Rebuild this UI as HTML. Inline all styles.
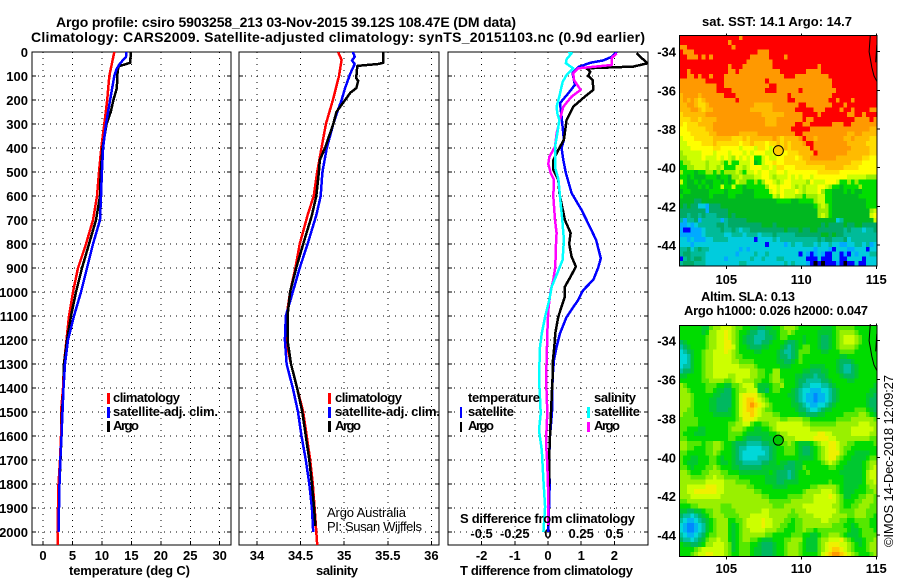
<!DOCTYPE html>
<html lang="en">
<head>
<meta charset="utf-8">
<title>Argo profile csiro 5903258_213</title>
<style>
html,body{margin:0;padding:0;background:#fff;}
svg{display:block;}
text{font-family:"Liberation Sans",sans-serif;font-weight:bold;fill:#000;font-size:13px;}
.thin{font-weight:normal;}
</style>
</head>
<body>
<svg id="chart" xmlns="http://www.w3.org/2000/svg" width="900" height="580" viewBox="0 0 900 580">
  <defs>
    <clipPath id="clip-t"><rect x="32" y="52" width="199" height="493"/></clipPath>
    <clipPath id="clip-s"><rect x="239" y="52" width="200" height="493"/></clipPath>
    <clipPath id="clip-d"><rect x="448" y="52" width="200" height="493"/></clipPath>
  </defs>
  <g id="heat-layer"></g>
  <g id="axes-layer"></g>
  <g id="series-layer"></g>

  <text x="56" y="27" textLength="460" lengthAdjust="spacing" style="font-size:14px">Argo profile: csiro 5903258_213 03-Nov-2015 39.12S 108.47E (DM data)</text>
  <text x="31" y="42" textLength="614" lengthAdjust="spacing" style="font-size:14px">Climatology: CARS2009. Satellite-adjusted climatology: synTS_20151103.nc (0.9d earlier)</text>

  <text x="69" y="575" textLength="121" lengthAdjust="spacing" style="font-size:13px">temperature (deg C)</text>
  <text x="316" y="575" textLength="42" lengthAdjust="spacing" style="font-size:13px">salinity</text>
  <text x="460" y="575" textLength="173" lengthAdjust="spacing" style="font-size:13px">T difference from climatology</text>

  <g>
    <rect x="107" y="393" width="3" height="11" fill="#ff0000"/>
    <text x="113" y="402" textLength="67" lengthAdjust="spacing">climatology</text>
    <rect x="107" y="407" width="3" height="11" fill="#0000ff"/>
    <text x="113" y="416" textLength="105" lengthAdjust="spacing">satellite-adj. clim.</text>
    <rect x="107" y="421" width="3" height="11" fill="#000"/>
    <text x="113" y="430" textLength="26" lengthAdjust="spacing">Argo</text>
  </g>
  <g>
    <rect x="328" y="393" width="3" height="11" fill="#ff0000"/>
    <text x="335" y="402" textLength="67" lengthAdjust="spacing">climatology</text>
    <rect x="328" y="407" width="3" height="11" fill="#0000ff"/>
    <text x="335" y="416" textLength="105" lengthAdjust="spacing">satellite-adj. clim.</text>
    <rect x="328" y="421" width="3" height="11" fill="#000"/>
    <text x="335" y="430" textLength="26" lengthAdjust="spacing">Argo</text>
  </g>
  <g>
    <text x="468" y="402" textLength="72" lengthAdjust="spacing">temperature</text>
    <rect x="460" y="407" width="2" height="11" fill="#0000ff"/>
    <text x="468" y="416" textLength="46" lengthAdjust="spacing">satellite</text>
    <rect x="460" y="422" width="2" height="10" fill="#000"/>
    <text x="468" y="430" textLength="26" lengthAdjust="spacing">Argo</text>
    <text x="594" y="402" textLength="42" lengthAdjust="spacing">salinity</text>
    <rect x="587" y="407" width="3" height="11" fill="#00ffff"/>
    <text x="594" y="416" textLength="46" lengthAdjust="spacing">satellite</text>
    <rect x="587" y="422" width="3" height="10" fill="#ff00ff"/>
    <text x="594" y="430" textLength="26" lengthAdjust="spacing">Argo</text>
  </g>

  <text x="460" y="523" textLength="175" lengthAdjust="spacing">S difference from climatology</text>
  <text class="thin" x="327" y="517" textLength="79" lengthAdjust="spacing">Argo Australia</text>
  <text class="thin" x="327" y="531" textLength="95" lengthAdjust="spacing">PI: Susan Wijffels</text>

  <text x="702" y="26" textLength="150" lengthAdjust="spacing">sat. SST: 14.1 Argo: 14.7</text>
  <text x="701" y="301" textLength="94" lengthAdjust="spacing">Altim. SLA: 0.13</text>
  <text x="684" y="315" textLength="184" lengthAdjust="spacing">Argo h1000: 0.026 h2000: 0.047</text>
  <text class="thin" transform="translate(893,547) rotate(-90)" x="0" y="0" textLength="172" lengthAdjust="spacing">©IMOS 14-Dec-2018 12:09:27</text>
</svg>

<script>
/* ---------- axis tick labels ---------- */
const depthTicks = [0,100,200,300,400,500,600,700,800,900,1000,1100,1200,1300,1400,1500,1600,1700,1800,1900,2000];
const temperatureTicks = [0,5,10,15,20,25,30];
const salinityTicks = [34,34.5,35,35.5,36];
const tDifferenceTicks = [-2,-1,0,1,2];
const sDifferenceTicks = [-0.5,-0.25,0,0.25,0.5];
const lonTicks = [105,110,115];
const latTicks = [-34,-36,-38,-40,-42,-44];

/* ---------- temperature profiles ---------- */
const tempClimDepths = [0,100,200,300,400,500,600,700,800,900,1000,1100,1200,1300,1400,1500,1600,1700,1800,1900,2000,2054];
const tempClimValues = [12.1,11.26,10.9,10.4,9.9,9.5,9.17,8.49,7.3,5.94,5.09,4.41,3.99,3.57,3.4,3.06,3.06,2.89,2.63,2.55,2.46,2.5];
const tempSatDepths = [0,20,47,70,100,200,300,400,500,600,700,800,900,1000,1100,1200,1300,1400,1500,1600,1700,1800,1900,2000];
const tempSatValues = [14.15,14.1,13.1,12.5,12.1,11.4,10.7,10.2,10,9.85,9.68,8.49,7.47,6.45,5.26,4.24,3.74,3.48,3.31,3.14,2.94,2.8,2.72,2.63];
const tempArgoDepths = [0,45,60,100,150,200,250,300,400,500,600,700,800,900,1000,1100,1200,1300,1400,1500,1600,1700,1800,1900,1975];
const tempArgoValues = [14.9,14.8,12.8,12.6,12.55,11.95,11.5,10.8,10.1,9.8,9.68,9,7.81,6.62,5.6,4.75,4.07,3.57,3.48,3.23,3.14,2.97,2.8,2.72,2.63];

/* ---------- salinity profiles ---------- */
const salClimDepths = [0,33,100,200,300,400,500,600,680,800,900,1000,1100,1200,1300,1400,1500,1600,1700,1800,1900,2000,2054];
const salClimValues = [34.93,34.97,34.94,34.87,34.79,34.74,34.69,34.65,34.58,34.49,34.44,34.38,34.34,34.33,34.39,34.46,34.53,34.57,34.61,34.64,34.66,34.68,34.69];
const salSatDepths = [0,20,35,50,90,150,200,250,300,400,500,600,680,800,900,1000,1100,1200,1300,1400,1500,1600,1700,1800,1900,2000];
const salSatValues = [35.10,35.12,35.09,35.12,35.07,35.01,34.97,34.92,34.875,34.8,34.75,34.73,34.68,34.58,34.49,34.41,34.33,34.32,34.34,34.41,34.47,34.51,34.56,34.6,34.63,34.645];
const salArgoDepths = [0,45,50,58,100,110,120,150,170,200,250,300,400,450,500,600,680,800,900,1000,1100,1200,1300,1400,1500,1600,1700,1800,1900,1975];
const salArgoValues = [35.45,35.45,35.39,35.15,35.14,35.14,35.16,35.14,35.07,35.01,34.91,34.875,34.78,34.72,34.71,34.68,34.63,34.53,34.45,34.38,34.35,34.35,34.39,34.46,34.52,34.56,34.6,34.63,34.655,34.67];

/* ---------- differences from climatology ---------- */
const dtSatDepths = [0,20,35,45,63,88,137,172,213,270,366,400,450,505,588,658,700,783,860,900,950,992,1033,1104,1172,1229,1283,1354,1500,1600,1713,1800,2000];
const dtSatValues = [2.07,1.92,1.67,1.27,0.91,0.74,0.81,0.61,0.36,0.41,0.48,0.41,0.46,0.54,0.71,1.01,1.16,1.45,1.59,1.51,1.36,1.06,0.91,0.56,0.36,0.26,0.18,0.14,0.12,0.06,0.03,0.05,0.01];
const dtArgoDepths = [5,25,47,61,68,82,100,117,158,186,228,283,366,408,450,491,533,587,700,754,800,853,894,936,978,1019,1061,1103,1172,1229,1298,1354,1500,1700,1800,1975];
const dtArgoValues = [2.67,2.82,3.0,2.57,1.16,1.27,1.21,1.35,1.36,1.11,0.76,0.56,0.48,0.31,0.16,0.16,0.31,0.34,0.51,0.68,0.64,0.71,0.84,0.68,0.51,0.51,0.41,0.31,0.22,0.19,0.14,0.14,0.09,0.03,0.03,0.0];
const dsSatDepths = [0,5,30,47,68,96,125,186,228,256,283,340,395,480,530,630,700,783,866,922,978,1033,1103,1172,1229,1354,1506,1575,1660,1783,1895,2000];
const dsSatValues = [0.153,0.178,0.14,0.135,0.19,0.14,0.11,0.085,0.065,0.07,0.085,0.07,0.053,0.053,0.078,0.095,0.108,0.12,0.11,0.07,0.028,0.01,-0.022,-0.047,-0.06,-0.068,-0.055,-0.068,-0.047,-0.035,-0.022,-0.035];
const dsArgoDepths = [5,25,54,68,88,117,158,186,228,270,340,395,437,466,505,533,600,700,754,800,894,950,992,1075,1172,1283,1354,1500,1625,1720,1850,1970];
const dsArgoValues = [0.517,0.48,0.48,0.228,0.19,0.196,0.246,0.178,0.115,0.095,0.065,0.053,0.01,0.002,0.02,0.045,0.04,0.053,0.065,0.06,0.055,0.04,0.02,0.002,-0.005,-0.01,-0.015,-0.005,-0.015,-0.005,0.002,0.002];

/* ---------- map: satellite SST category per 0.25 degree cell ---------- */
const sstRows = [
"rrrrrrrrrrrrrrrrorrrrrrrrrrrrrrrrrrrrrrrrrrrrrrrrrrrr",
"rrrrrrrrrrrrrorrrrrrrrrrrrrrrrrrrrrrrrrrrrrrrrrrrrrrr",
"oorrrrrrrrrrrrorrrrrrrrrrrrrrrrrrrrrrrrrrrrrrrrrrrrrr",
"rooorrrrrrrrrrrrrrrrrooorrrrrrrrrrrrrrrrrrrrrrrrrrrrr",
"rrooorororrrrrrrrrrooooorrrrorrrrrrrrrrrrrrrrrrrrrrrr",
"rrrrrrrrrrrrrrrrrrooooooorrrrrrrrrrrrrrrrrrrrrrrrrrrr",
"rrrrrrrrrrrrrorrroooooooorrrrrrrrrrrrorrrrrrrrrrrrrrr",
"rrorrrrrrrrrroorooooooooooorrrrrrroooorrrrrrrrrrrrrrr",
"rroororrorrroooooooooooooooorrrooooooooorrrrrrrrrrrrr",
"ooooooorrrrrooooooooooorooooooooooooooooorrrrrrrrrrrr",
"oooooooooorroooooooooooorrooooooooooooooorrrrrrrrrrrr",
"oooooooooorrrrooooooooorrroooooorooooooooorrrrrrrrrrr",
"aooooaoooooorrroooooooooooooorooooooooooorrrrrrrrrrrr",
"aoaoayaoooooooorooooooooooooorrooooooooorrorrrorrrrrr",
"aaooayyaooooooooooooaaaaaooooooorrooooooorrrorrrrrrrr",
"aaaooayaaooooooooooaaaaaaoooooorrrrrooorrrrorrorrrroo",
"yaaaaaaoooooooooooooooaaaaaaooooorrrrorrrrrrroorrorrr",
"yyyaayaaaaoooooooooooooaaaoooooooroorrrrrrrrrrrooooro",
"yYyyyaaaaooooooooooooooaaaooooorroorrrrrrooorrooooooo",
"YYyyyyyaaooooooooooooooooooooorrrrrooooooooooooooooaa",
"YYYyyyyyaaooooooaaaaaoooooooooorrooooooooooooaaooaaaa",
"lYYYyyyyyaaaaayyyayaaaaaaoayaaaaorooaoooooooaaoaaaayy",
"llYYYYyyyayyyyyyYyyayyyYyyayayaaaorroooooooooaaaaayyy",
"lllYYYYYYyyYYYYYlYYYlyyYlYyyayaaaaarooooooooooaaaaayy",
"mlllllYYYlYYYlYYYlYlYYYllYYYYyyyaaaarooooooooaaaaaayy",
"mmllllYlllYlYlmYlYlYGGlYllYYyyyYyaaoooooooaaaaaaayyYY",
"GmmllllmlllmGlGGlllYdGlYYyYYyyyyyyaaaaaaaaaaaayyyYYYY",
"GGmmlllmllmlGGGllmlYYYllYlyyYYYyyyyyyyyaaaaayyyyYYYYY",
"mGGGdGGmmGmGmmmlmGllYlYYllYYlYYYYYYYYyyyyyyYYYYYYYYYY",
"GGdGdddGGGdGGdmmlmmmllYYlmlllYlYlYYlYYYYYYYYYlllllmmm",
"lGddGdGddGGdGdGlmmGGmGmYYlmlYYllllmYlllYYYlGGmGmGGGGG",
"GGdddGdGdGGlGGlGGdGGGGGmYYlYYYlmlmlllYYlmGGdGGGGmGGGG",
"dGGdddddGGGGdGGGGdddGGGGlYlYlllYlmlllYmGGdddGdGddGGGG",
"GdddddddGddddGGdddddGGGGGlmYlllmmGmmmllGGdddddddGGGGG",
"ddddttddddddddddddddddddddGGGGddGGGGmllGGdddddddddGGG",
"dtdttccbtttdddddddddddddddddddddddddGmlmGdddddddddGGG",
"tttttttbtttttddddddddddddddddddddddddmmmGddddddddddml",
"ttuttutuuutttdtddddddddddddddddddddddmlmGddddddddddlY",
"ubuutbuuuuubutttttddddddddddddddddddddddddcuddddddddl",
"bbcbcuuuuuttutttttttttdddtddddddddddddtdttttdttddtttt",
"bBBbbbcuuuutuutucuutttttttttdtttdttddtttttttutuuucuut",
"bbbbbbcuuuuuccuuucuuucuuutuuuuutttttttddtdttuuuuuuuuu",
"ccbcbbbccuuuucccccccBccccucuuuuuuuuuututtuuutcuuuuuuu",
"cccbcccccccccccccccccccBccccbcuccuuucuccuccbbccuucubc",
"uutcutuuccccccccbcbcccccccccccccccccbcccbBcccbbcccBcc",
"uttuuuuccccccccbccccuccuccccccccBcbBbcbBBccBbBcbcccuu",
"BututtucccccbccccccuccucccuuccccccBBBcBBBccBBccccBccc",
"utttuuucccccccccuuccccccccccucucccbBkBkBBBbBkBBcBBccc"
];

/* ---------- map: altimetry SLA level per 0.25 degree cell ---------- */
const slaRows = [
"6666665578 8999877665 5445566788 8766666655 5677777666 666",
"6666665688 99a9876654 4334556778 7666666555 5678888766 666",
"6666666788 99a9876544 3334456776 6665666544 5678999876 666",
"4566666788 99aa876544 3344566654 4565666544 5678999876 666",
"3456666788 99aa976654 4455666543 4567766544 5678888766 666",
"2345667889 99a9876666 5566665433 4577766655 6667777666 666",
"2235667889 9999877666 6666665443 4576666666 6665566666 666",
"2235667889 9999887777 6666665544 5676666666 6654445666 666",
"2335667889 9999998888 7666666555 6666655556 6654334566 666",
"3445667889 9999999998 8776688666 6665544455 6654334566 666",
"5566667889 9998899998 8776788666 6554443445 6665444566 666",
"6666667788 8877899888 7766788766 6544333344 5666655666 666",
"8766666777 6655778999 7555677866 6543322233 4566666666 665",
"8876666776 5544678899 9554677666 5432211122 3456666666 655",
"8887666665 5444679aaa a876666665 5432110112 3456666666 554",
"8887666655 4444679abb a987666666 5432110112 3456666666 544",
"8887666655 4444679abc ba98766666 5543211223 4566666666 544",
"8877666655 4445679abb a987766666 6544322345 5666666777 654",
"8777666665 5555679aab a988877666 6655444556 6666777788 765",
"7777766666 6666678aaa 9888888778 8887766666 6677778888 887",
"7777766666 6667788997 6677889999 9998877777 7788888899 988",
"7766655666 6667888766 5566789999 9999988888 8888889999 998",
"7666555666 6667777655 5555667889 9999999aa9 9888889999 988",
"7766666666 6667766544 4455566788 899999aaaa 9988888888 877",
"8877776778 8766544433 3344556778 7655567899 aa98877666 667",
"8877666778 8766543322 2233456677 7654456789 aa98776666 666",
"7766666778 7666543222 2223456677 7654456789 aaa8766555 566",
"7665566677 6566543222 2333456666 6655556789 aa87665555 677",
"7655566677 6556544333 3344556554 4556666678 9876655556 788",
"7765666778 7666554444 4455555544 4557666666 7766555556 789",
"8876667788 8776665555 5555654443 4566766666 6665555556 899",
"8887777889 8877776666 6665554443 4566666666 6666555556 899",
"8888888999 9988877776 6665554455 5566666666 7666555556 889",
"8899999aaa 9988888877 6666655556 6666677888 8876555566 788",
"8899aaaaaa 9988888888 7766666666 6667888899 9876555666 778",
"8889999999 9888888888 8877666667 7778889999 a987556677 887",
"7788888888 8888888888 8888777777 8888889999 9987666778 887",
"6667788888 8777888888 8888877788 8889999999 9887667788 877",
"5544556778 8777788888 8899888888 7888999999 9987777888 777",
"4332345678 8877778889 9999888887 7788889999 9888877888 776",
"3211234567 8886677899 99a9988877 6778888899 8887766777 766",
"2100123567 8886567899 99a9988776 6778888888 8777665677 766",
"2100123567 8886567889 9998887766 6778776777 7777765567 776",
"3211234677 8886567888 8887766666 7776655677 8887655567 777",
"4332345788 9886567887 7655566677 8886555788 999a876556 778",
"6554456889 9987567776 6544456678 8876555789 aaa9987656 788",
"6666789999 9987567776 5544456678 8876555789 abba987666 788",
"6667899aa9 9987667776 5544456678 887666679a bccba98766 678"
];

/* ---------- map: coast outline and profile location ---------- */
const coastLonA = [114.6,114.52,114.7,114.85,115.05];
const coastLatA = [-33.14,-34,-34.8,-35.25,-35.55];
const coastLonB = [115.03,114.96];
const coastLatB = [-33.65,-34.55];
const profileLon = 108.47;
const profileLat = -39.12;

/* ---------- drawing ---------- */
const NS = 'http://www.w3.org/2000/svg';
const heatLayer = document.getElementById('heat-layer');
const axesLayer = document.getElementById('axes-layer');
const seriesLayer = document.getElementById('series-layer');

const sstPalette = {r:'#ff0000',o:'#ff9900',a:'#ffbb00',y:'#ffdd00',Y:'#ffff00',l:'#ccff00',m:'#99ee00',G:'#00dd00',d:'#00b820',t:'#00aa66',u:'#00bb99',c:'#00ccdd',b:'#00aaff',B:'#0000ff',k:'#000000'};
const slaPalette = {'0':'#0088ff','1':'#00b4f0','2':'#00d8d8','3':'#00c0a0','4':'#00b860','5':'#00c830','6':'#00dc00','7':'#55e800','8':'#99f000','9':'#ccff00','a':'#f0f000','b':'#ffcc00','c':'#ff9900'};

function depthY(d){ return 52 + d * 0.24; }
function tempX(v){ return 43 + v * 5.89; }
function salX(v){ return 257 + (v - 34) * 87.2; }
function dtX(v){ return 548 + v * 33.2; }
function dsX(v){ return 548 + v * 132.8; }

function make(tag, attrs, parent){
  const el = document.createElementNS(NS, tag);
  for (const k in attrs) el.setAttribute(k, attrs[k]);
  parent.appendChild(el);
  return el;
}

function vline(x, y1, y2, dotted, name){
  const el = make('line', {x1:x, x2:x, y1:y1, y2:y2, stroke:'#000', 'stroke-width':1, 'shape-rendering':'crispEdges'}, axesLayer);
  
  
  if (dotted) el.setAttribute('stroke-dasharray', '1 5');
}
function hline(y, x1, x2, dotted, name){
  const el = make('line', {x1:x1, x2:x2, y1:y, y2:y, stroke:'#000', 'stroke-width':1, 'shape-rendering':'crispEdges'}, axesLayer);
  
  
  if (dotted) el.setAttribute('stroke-dasharray', '1 5');
}
function label(txt, x, y, anchor, name){
  const el = make('text', {x:x, y:y, 'text-anchor':anchor}, axesLayer);
  
  
  el.textContent = txt;
}

function panelFrame(left, right, xs, xLabels, showDepth, prefix){
  const top = 52, bottom = 545;
  xs.forEach(function(px, i){
    vline(px, top, bottom, true, prefix + '-x-grid');
    vline(px, bottom - 4, bottom, false, prefix + '-x-tick');
    label(xLabels[i], px, 560, 'middle', prefix + '-x-tick-label');
  });
  depthTicks.forEach(function(d){
    const y = depthY(d);
    hline(y, left, right, true, prefix + '-y-grid');
    hline(y, left, left + 4, false, prefix + '-y-tick');
    hline(y, right - 4, right, false, prefix + '-y-tick');
    if (showDepth) label(String(d), 28, y + 5, 'end', 'depth-tick-label');
  });
  const box = make('rect', {x:left, y:top, width:right - left, height:bottom - top, fill:'none', stroke:'#000', 'stroke-width':1, 'shape-rendering':'crispEdges'}, axesLayer);
  
  
}

panelFrame(32, 231, temperatureTicks.map(tempX), temperatureTicks.map(String), true, 'temperature');
panelFrame(239, 439, salinityTicks.map(salX), salinityTicks.map(String), false, 'salinity');
panelFrame(448, 648, tDifferenceTicks.map(dtX), tDifferenceTicks.map(String), false, 't-difference');

sDifferenceTicks.forEach(function(v){
  label(String(v), dsX(v), 538, 'middle', 's-difference-tick-label');
});

function series(depths, values, xFn, color, clip, name){
  const pts = depths.map(function(d, i){ return xFn(values[i]).toFixed(1) + ',' + depthY(d).toFixed(1); }).join(' ');
  const el = make('polyline', {points:pts, fill:'none', stroke:color, 'stroke-width':2.5, 'stroke-linejoin':'round', 'shape-rendering':'crispEdges', 'clip-path':'url(#' + clip + ')'}, seriesLayer);
  
  
}

series(tempClimDepths, tempClimValues, tempX, '#ff0000', 'clip-t', 'temperature-climatology-line');
series(tempArgoDepths, tempArgoValues, tempX, '#000000', 'clip-t', 'temperature-argo-line');
series(tempSatDepths, tempSatValues, tempX, '#0000ff', 'clip-t', 'temperature-satellite-line');

series(salClimDepths, salClimValues, salX, '#ff0000', 'clip-s', 'salinity-climatology-line');
series(salSatDepths, salSatValues, salX, '#0000ff', 'clip-s', 'salinity-satellite-line');
series(salArgoDepths, salArgoValues, salX, '#000000', 'clip-s', 'salinity-argo-line');

series(dtSatDepths, dtSatValues, dtX, '#0000ff', 'clip-d', 't-difference-satellite-line');
series(dtArgoDepths, dtArgoValues, dtX, '#000000', 'clip-d', 't-difference-argo-line');
series(dsArgoDepths, dsArgoValues, dsX, '#ff00ff', 'clip-d', 's-difference-argo-line');
series(dsSatDepths, dsSatValues, dsX, '#00ffff', 'clip-d', 's-difference-satellite-line');

function drawMap(rows, palette, top, bottom, lat34Y, degY, labelY, prefix, markerFill){
  const left = 679.3, right = 877;
  const lonX = function(lon){ return 726.3 + (lon - 105) * 15; };
  const latY = function(lat){ return lat34Y + (-34 - lat) * degY; };
  const cellW = (right - left) / 53;
  const cellH = (bottom - top) / rows.length;
  rows.forEach(function(row, r){
    const chars = row.replace(/ /g, '');
    for (let c = 0; c < 53; c++){
      const ch = chars[Math.min(c, chars.length - 1)];
      const cell = make('rect', {
        x:(left + c * cellW).toFixed(2), y:(top + r * cellH).toFixed(2),
        width:(cellW + 0.4).toFixed(2), height:(cellH + 0.4).toFixed(2),
        fill:palette[ch], 'shape-rendering':'crispEdges'
      }, heatLayer);
      
      
    }
  });
  lonTicks.forEach(function(lon){
    vline(lonX(lon), top - 2, top, false, prefix + '-x-tick');
    vline(lonX(lon), bottom, bottom + 3, false, prefix + '-x-tick');
    label(String(lon), lonX(lon), labelY, 'middle', prefix + '-lon-label');
  });
  latTicks.forEach(function(lat){
    hline(latY(lat), right, right + 3, false, prefix + '-y-tick');
    label(String(lat), 676, latY(lat) + 5, 'end', prefix + '-lat-label');
  });
  const box = make('rect', {x:left, y:top, width:right - left, height:bottom - top, fill:'none', stroke:'#000', 'stroke-width':1, 'shape-rendering':'crispEdges'}, axesLayer);
  
  

  const coastA = make('polyline', {points:coastLonA.map(function(v, i){ return lonX(v).toFixed(1) + ',' + latY(coastLatA[i]).toFixed(1); }).join(' '), fill:'none', stroke:'#000', 'stroke-width':1}, axesLayer);
  
  
  const coastB = make('polyline', {points:coastLonB.map(function(v, i){ return lonX(v).toFixed(1) + ',' + latY(coastLatB[i]).toFixed(1); }).join(' '), fill:'none', stroke:'#000', 'stroke-width':1}, axesLayer);
  
  

  const marker = make('circle', {cx:lonX(profileLon), cy:latY(profileLat), r:5, fill:markerFill, stroke:'#000', 'stroke-width':1}, axesLayer);
  
  
}

drawMap(sstRows, sstPalette, 35.3, 266, 51.7, 19.33, 284, 'sst-map', '#ffcc00');
drawMap(slaRows, slaPalette, 325.3, 556.7, 340.7, 19.43, 573, 'sla-map', '#00c800');
</script>
</body>
</html>
